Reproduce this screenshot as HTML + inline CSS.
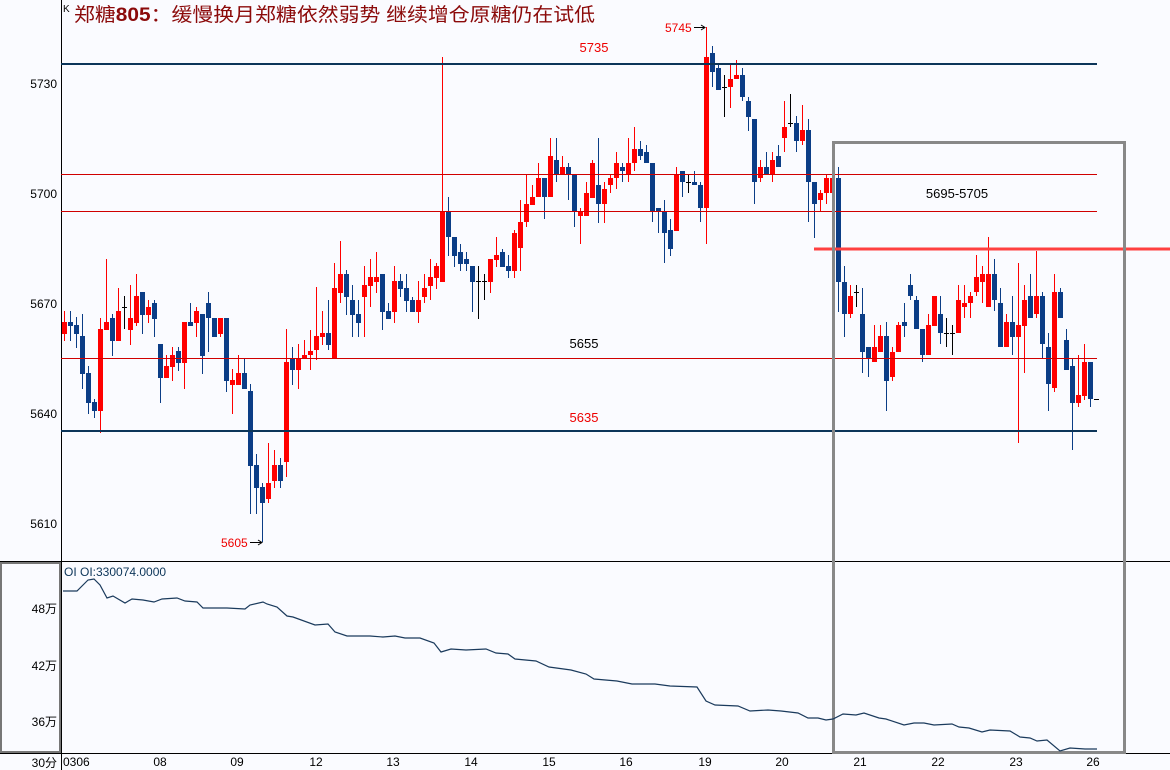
<!DOCTYPE html>
<html><head><meta charset="utf-8">
<style>
html,body{margin:0;padding:0;background:#fafbff;}
svg{display:block;}
text{font-family:"Liberation Sans","Noto Sans CJK SC",sans-serif;}
</style></head>
<body>
<svg id="s" width="1170" height="770" xmlns="http://www.w3.org/2000/svg">
<rect x="0" y="0" width="1170" height="770" fill="#fafbff"/>
<g id="c"></g>
<!-- axes -->
<line x1="61.5" y1="0" x2="61.5" y2="770" stroke="#000" stroke-width="1"/>
<line x1="0" y1="561.5" x2="1170" y2="561.5" stroke="#000" stroke-width="1"/>
<line x1="0" y1="753.5" x2="1170" y2="753.5" stroke="#000" stroke-width="1"/>
<rect x="1" y="563" width="59" height="189" fill="none" stroke="#777" stroke-width="2"/>
<!-- horizontal level lines -->
<line x1="61" y1="64" x2="1097" y2="64" stroke="#0c3559" stroke-width="2"/>
<line x1="61" y1="431" x2="1097" y2="431" stroke="#0c3559" stroke-width="2"/>
<line x1="61" y1="174.5" x2="1097" y2="174.5" stroke="#d00000" stroke-width="1"/>
<line x1="61" y1="211.5" x2="1097" y2="211.5" stroke="#d00000" stroke-width="1"/>
<line x1="61" y1="358.5" x2="1097" y2="358.5" stroke="#d00000" stroke-width="1"/>
<line x1="814" y1="249" x2="1170" y2="249" stroke="#ff4040" stroke-width="3"/>
<!-- gray box -->
<rect x="833.5" y="142.5" width="291" height="610" fill="none" stroke="#888" stroke-width="3"/>
<!-- labels -->
<text x="63" y="12" font-size="10" fill="#000">K</text>
<text x="74" y="21" font-size="19" fill="#8b0a0a" textLength="521" lengthAdjust="spacingAndGlyphs">郑糖<tspan font-weight="bold">805</tspan>：缓慢换月郑糖依然弱势 继续增仓原糖仍在试低</text>
<text x="594" y="52" font-size="13" fill="#ee0000" text-anchor="middle">5735</text>
<text x="957" y="198" font-size="13" fill="#000" text-anchor="middle">5695-5705</text>
<text x="584" y="348" font-size="13" fill="#000" text-anchor="middle">5655</text>
<text x="584" y="422" font-size="13" fill="#ee0000" text-anchor="middle">5635</text>
<text x="665" y="32" font-size="12" fill="#ee0000">5745</text>
<line x1="694" y1="27.5" x2="704" y2="27.5" stroke="#000"/><path d="M701,25 L705,27.5 L701,30" fill="none" stroke="#000"/>
<text x="221" y="547" font-size="12" fill="#ee0000">5605</text>
<line x1="250" y1="542.5" x2="261" y2="542.5" stroke="#000"/><path d="M258,540 L262,542.5 L258,545" fill="none" stroke="#000"/>
<g font-size="12" fill="#000" text-anchor="end">
<text x="57" y="88">5730</text><text x="57" y="198">5700</text><text x="57" y="308">5670</text><text x="57" y="418">5640</text><text x="57" y="528">5610</text>
<text x="57" y="613">48万</text><text x="57" y="670">42万</text><text x="57" y="726">36万</text>
<text x="57" y="767">30分</text>
</g>
<text x="64" y="576" font-size="12" fill="#0c3559">OI OI:330074.0000</text>
<g font-size="12" fill="#000" text-anchor="middle">
<text x="63" y="766" text-anchor="start">0306</text>
<text x="160" y="766">08</text><text x="237" y="766">09</text><text x="316" y="766">12</text><text x="393" y="766">13</text><text x="471" y="766">14</text><text x="549" y="766">15</text><text x="626" y="766">16</text><text x="705" y="766">19</text><text x="782" y="766">20</text><text x="860" y="766">21</text><text x="938" y="766">22</text><text x="1016" y="766">23</text><text x="1093" y="766">26</text>
</g>
<polyline fill="none" stroke="#1a3a5c" stroke-width="1.2" points="63,591 77,591 88,580 94,579 100,585 107,598 113,596 125,603 132,599 143,600 154,602 162,599 177,598 185,601 197,602 203,608 217,608 227,608 245,609 250,605 263,602 267,604 277,607 287,616 293,617 315,625 328,624 335,632 347,636 360,636 370,636 383,637 395,636 405,638 420,638 434,643 441,652 451,649 466,650 486,649 496,653 508,654 515,659 536,661 549,667 571,670 586,674 594,679 617,681 632,684 655,684 670,686 697,687 706,701 715,705 738,706 750,711 768,710 781,711 798,713 808,718 818,718 826,720 833,719 843,714 856,715 864,713 879,718 886,719 904,725 914,723 924,723 934,725 952,724 959,727 969,728 982,732 990,730 1010,731 1020,737 1030,738 1037,741 1047,740 1060,751 1070,748 1085,749 1097,749"/>
<line x1="1094" y1="399.5" x2="1099" y2="399.5" stroke="#000"/>
</svg>
<script>
var d=[
[0,'r',322,334,311,341],[1,'b',322,326,311,341],[2,'b',325,334,317,348],[3,'b',336,374,314,389],[4,'b',373,403,366,414],[5,'b',402,411,399,418],[6,'r',329,411,318,433],[7,'r',322,330,259,330],[8,'b',318,341,314,356],[9,'r',311,341,288,341],[10,'k',307,307,296,329],[11,'r',318,330,285,345],[12,'r',296,323,274,326],[13,'b',292,315,292,334],[14,'r',307,315,300,323],[15,'b',303,319,300,337],[16,'b',344,378,344,403],[17,'r',366,378,355,378],[18,'r',355,367,347,381],[19,'b',351,363,347,371],[20,'r',322,363,322,389],[21,'b',322,326,303,326],[22,'r',311,323,307,337],[23,'b',314,356,314,374],[24,'b',303,318,292,352],[25,'b',318,337,318,337],[26,'r',318,334,318,337],[27,'b',318,381,318,392],[28,'r',380,385,369,414],[29,'r',373,385,355,385],[30,'b',373,389,358,389],[31,'b',391,466,384,514],[32,'b',465,488,454,514],[33,'b',487,503,483,542],[34,'r',483,499,443,503],[35,'r',465,481,450,488],[36,'b',465,481,458,488],[37,'r',362,462,329,477],[38,'b',358,370,347,385],[39,'r',358,370,344,389],[40,'r',355,358,340,358],[41,'r',351,355,330,370],[42,'r',336,350,287,360],[43,'r',333,337,311,345],[44,'b',333,345,300,350],[45,'r',288,358,263,358],[46,'r',274,293,241,303],[47,'b',274,297,270,315],[48,'b',300,315,285,337],[49,'b',314,323,300,337],[50,'r',285,297,266,337],[51,'r',277,286,259,307],[52,'r',277,282,252,293],[53,'b',274,312,274,330],[54,'b',311,319,303,319],[55,'r',281,312,266,323],[56,'b',281,289,274,297],[57,'b',288,301,274,312],[58,'b',300,312,297,312],[59,'r',300,312,281,323],[60,'r',288,297,274,303],[61,'r',277,286,259,300],[62,'r',266,278,263,289],[63,'r',212,282,57,282],[64,'b',212,237,197,256],[65,'b',237,256,237,267],[66,'b',252,264,244,271],[67,'b',259,264,252,271],[68,'b',266,282,266,312],[69,'k',281,281,266,319],[70,'k',281,281,274,300],[71,'r',259,282,259,293],[72,'r',255,260,237,267],[73,'b',252,267,249,267],[74,'b',266,271,255,278],[75,'r',233,271,230,278],[76,'r',222,248,200,271],[77,'r',204,222,174,227],[78,'r',197,205,185,205],[79,'r',178,197,163,197],[80,'b',178,197,178,219],[81,'r',156,197,138,197],[82,'b',160,174,138,182],[83,'r',167,174,156,174],[84,'b',167,174,163,200],[85,'b',174,211,174,227],[86,'r',212,216,208,244],[87,'r',193,216,182,216],[88,'r',163,198,160,198],[89,'b',185,204,138,223],[90,'r',189,204,182,223],[91,'r',178,185,174,193],[92,'r',163,178,152,189],[93,'b',167,171,163,182],[94,'r',163,174,138,182],[95,'r',149,163,127,171],[96,'b',149,156,141,160],[97,'b',152,163,145,163],[98,'b',163,211,163,222],[99,'b',208,211,208,233],[100,'b',212,233,200,263],[101,'b',230,249,219,256],[102,'r',174,231,167,231],[103,'b',171,182,171,197],[104,'k',182,182,174,193],[105,'b',182,185,171,185],[106,'b',185,208,182,222],[107,'r',57,208,27,244],[108,'b',53,72,46,87],[109,'b',68,90,63,90],[110,'k',87,87,75,117],[111,'r',79,87,63,108],[112,'r',75,79,60,79],[113,'b',75,97,68,101],[114,'b',101,117,97,131],[115,'b',119,182,119,204],[116,'r',167,178,160,182],[117,'b',167,174,152,174],[118,'r',160,174,152,182],[119,'b',156,167,145,167],[120,'r',127,138,101,152],[121,'k',123,123,94,127],[122,'b',123,141,116,152],[123,'r',130,141,105,145],[124,'b',130,182,119,222],[125,'b',182,204,182,238],[126,'r',193,200,190,211],[127,'r',178,193,174,204],[128,'r',178,193,174,204],[129,'b',178,282,167,312],[130,'b',282,314,266,337],[131,'r',296,314,285,318],[132,'k',292,292,285,307],[133,'b',314,352,288,373],[134,'b',347,358,347,377],[135,'r',347,362,325,362],[136,'r',336,352,325,352],[137,'b',336,381,322,411],[138,'r',352,377,347,381],[139,'r',325,352,322,352],[140,'b',322,326,303,337],[141,'b',285,296,274,300],[142,'b',300,329,296,329],[143,'b',329,355,329,362],[144,'r',325,355,314,355],[145,'r',296,326,296,326],[146,'b',314,333,296,344],[147,'k',333,333,318,347],[148,'k',333,333,325,355],[149,'r',300,333,285,333],[150,'r',303,307,285,318],[151,'r',296,303,292,318],[152,'r',277,292,255,296],[153,'r',274,282,266,303],[154,'r',274,307,237,307],[155,'b',274,300,259,311],[156,'b',303,347,288,347],[157,'r',322,347,314,347],[158,'b',322,337,296,355],[159,'r',325,337,263,443],[160,'r',300,326,285,373],[161,'b',296,318,274,318],[162,'r',296,314,251,318],[163,'b',296,344,292,358],[164,'b',347,384,333,411],[165,'r',292,388,274,392],[166,'b',292,318,288,318],[167,'b',340,370,329,370],[168,'b',366,403,358,450],[169,'r',395,403,355,407],[170,'r',362,396,344,400],[171,'b',362,399,362,407]];
var col={r:'#ff0000',b:'#0b3d86',k:'#000000'};
var h='';
d.forEach(function(a){var x=64+6*a[0],c=col[a[1]];
h+='<rect x="'+(x)+'" y="'+a[4]+'" width="1" height="'+Math.max(1,a[5]-a[4])+'" fill="'+c+'"/>';
if(a[1]=='k'){h+='<rect x="'+(x-2)+'" y="'+a[2]+'" width="5" height="1" fill="#000"/>';}
else h+='<rect x="'+(x-2)+'" y="'+a[2]+'" width="5" height="'+Math.max(1,a[3]-a[2])+'" fill="'+c+'"/>';});
document.getElementById('c').innerHTML=h;
</script>
</body></html>
